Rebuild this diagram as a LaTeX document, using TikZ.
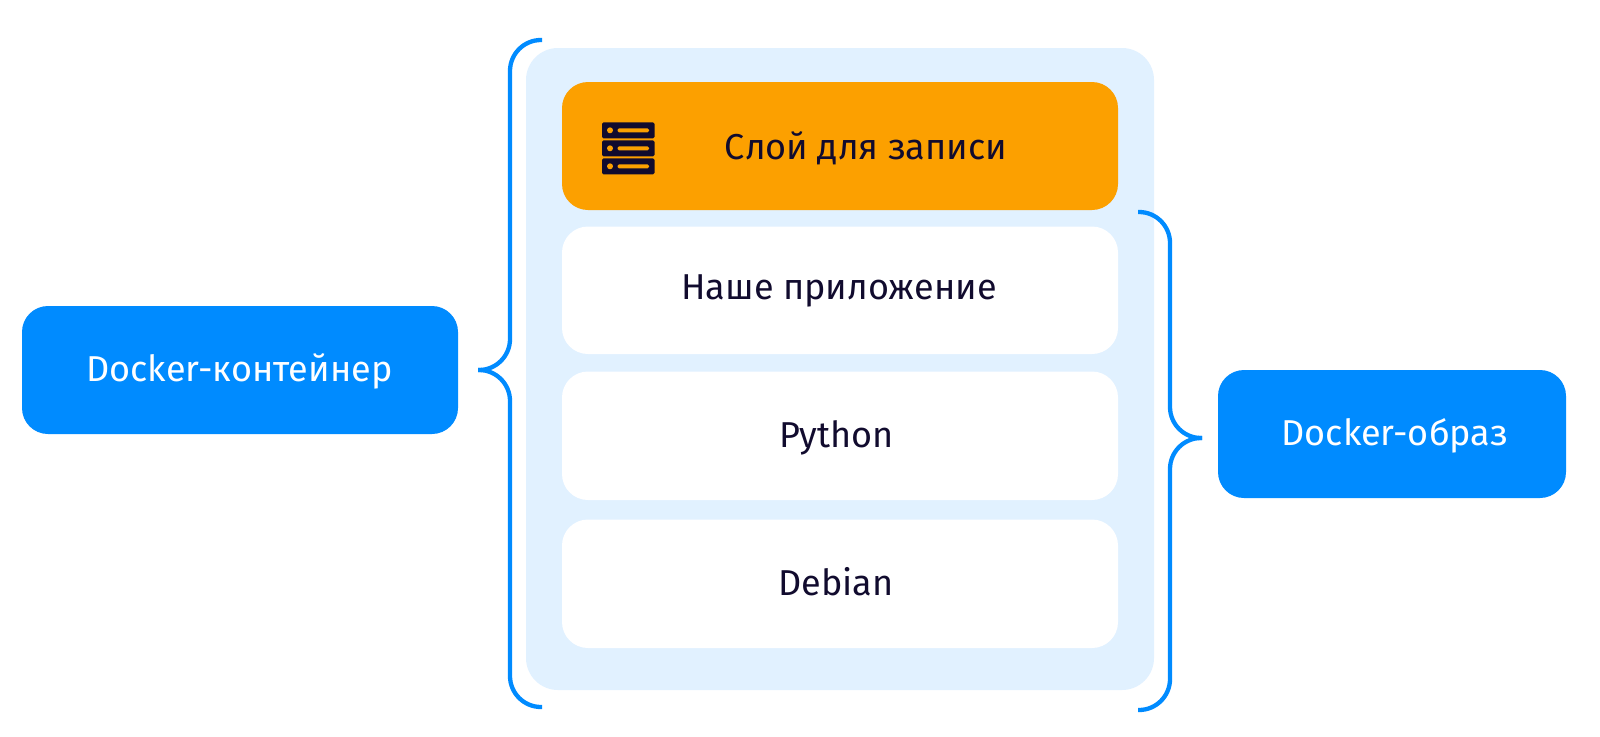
\documentclass[tikz,border=0pt]{standalone}
\usepackage{fontspec}
\setmainfont{Fira Sans}
\definecolor{blue1}{HTML}{008BFF}
\definecolor{panel}{HTML}{E1F1FF}
\definecolor{orange1}{HTML}{FCA000}
\definecolor{ink}{HTML}{110B2E}
\tikzset{
  lab/.style={font=\fontsize{36}{42}\selectfont,anchor=base,inner sep=0pt},
  layer/.style={rounded corners=26pt,draw=none},
  bracket/.style={draw=blue1,line width=4.3pt,rounded corners=31pt},
}
\begin{document}
\begin{tikzpicture}[x=1pt,y=-1pt]
\useasboundingbox (0,0) rectangle (1600,736);
\fill[white] (0,0) rectangle (1600,736);
\fill[panel,rounded corners=32pt] (526,48) rectangle (1154,690);
\fill[layer,fill=orange1] (562,82) rectangle (1118,210);
\fill[layer,fill=white] (562,226.5) rectangle (1118,354);
\fill[layer,fill=white] (562,371.5) rectangle (1118,500);
\fill[layer,fill=white] (562,519.5) rectangle (1118,648);
\fill[layer,fill=blue1] (22,306) rectangle (458,434);
\fill[layer,fill=blue1] (1218,370) rectangle (1566,498);
\node[lab,text=ink] (a) at (866,159.5) {Слой для записи};
\node[lab,text=ink] (b) at (839,299.5) {Наше приложение};
\node[lab,text=ink] (c) at (836.5,447.5) {Python};
\node[lab,text=ink] (d) at (836,595.5) {Debian};
\node[lab,text=white] (e) at (239.5,381.5) {Docker-контейнер};
\node[lab,text=white] (f) at (1395,445.5) {Docker-образ};
\draw[bracket] (542,40) -- (510,40) -- (510,370) -- (478,370);
\draw[bracket] (478,370) -- (510,370) -- (510,707) -- (542,707);
\draw[bracket] (1138,212) -- (1170,212) -- (1170,438) -- (1202,438);
\draw[bracket] (1202,438) -- (1170,438) -- (1170,710) -- (1138,710);
\foreach \y in {122.3,140.3,158.3}{
  \fill[ink,rounded corners=1.5pt] (602,\y) rectangle (654.5,\y+16);
  \fill[orange1] (610,\y+8) circle[radius=3];
  \fill[orange1,rounded corners=1.5pt] (617.5,\y+6) rectangle (649,\y+10);
}
\end{tikzpicture}
\end{document}
